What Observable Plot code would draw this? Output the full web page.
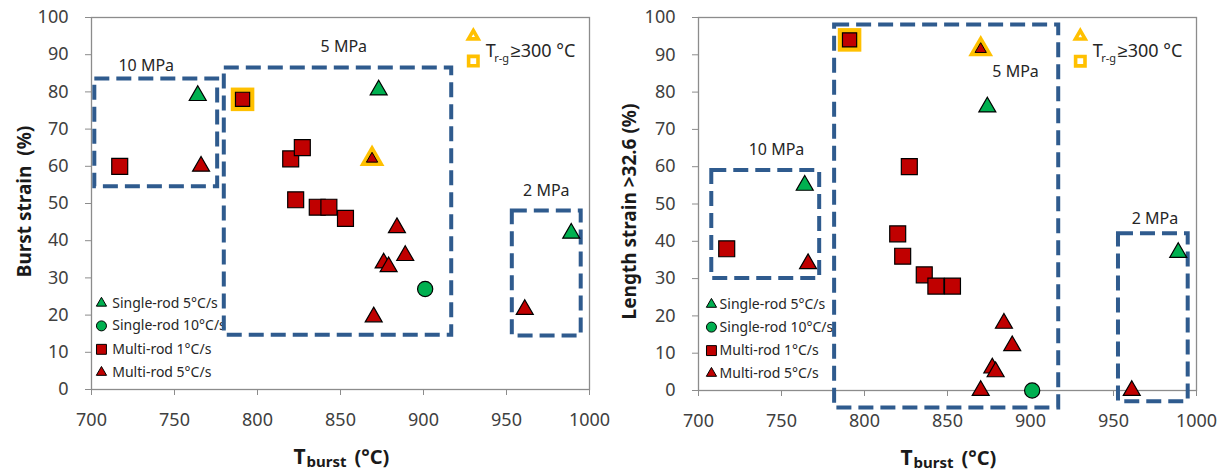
<!DOCTYPE html>
<html><head><meta charset="utf-8">
<script src="https://cdn.jsdelivr.net/npm/d3@7"></script>
<script src="https://cdn.jsdelivr.net/npm/@observablehq/plot@0.6"></script>
<style>
body{margin:0;background:#fff;}
#wrap{position:relative;width:1231px;height:472px;overflow:hidden;background:#fff;}
#left{position:absolute;left:0;top:0;}
#right{position:absolute;left:608px;top:0;}
svg text{white-space:pre;}
</style></head><body><div id="wrap"><div id="left"></div><div id="right"></div></div>
<script>
// ---------- data ----------
const xTicks = [700, 750, 800, 850, 900, 950, 1000];
const yTicks = [0, 10, 20, 30, 40, 50, 60, 70, 80, 90, 100];
const seriesNames = ["Single-rod 5°C/s", "Single-rod 10°C/s", "Multi-rod 1°C/s", "Multi-rod 5°C/s"];
const pressureLabels = ["10 MPa", "5 MPa", "2 MPa"];
const hotLabel = ["T", "r-g", "≥300 °C"];

// Burst strain (%) vs T_burst (°C)
const burstSingle5  = [[764, 79], [873, 80.5], [989, 42]];
const burstSingle10 = [[901, 27]];
const burstMulti1   = [[717, 60], [791, 78], [820, 62], [827, 65], [823, 51], [836, 49], [843, 49], [853, 46]];
const burstMulti5   = [[766, 60], [869, 62], [884, 43.5], [876, 34], [879, 33], [889, 36], [870, 19.5], [961, 21.5]];

// Length strain >32.6 (%) vs T_burst (°C)
const lengthSingle5  = [[764, 55], [874, 76], [989, 37]];
const lengthSingle10 = [[901, 0]];
const lengthMulti1   = [[717, 38], [791, 94], [827, 60], [820, 42], [823, 36], [836, 31], [843, 28], [853, 28]];
const lengthMulti5   = [[766, 34], [870, 91.5], [884, 18], [889, 12], [877, 6], [879, 5], [870, 0], [961, 0]];

// indices of points with T r-g >= 300 °C
const hotMulti1Index = [1];
const hotMulti5Index = [1];

// pressure groups: [T1, T2, strain1, strain2]
const burstBoxes  = [[702, 776, 54.5, 83.5], [780, 917, 14.6, 86.4], [953.5, 995, 14.4, 48]];
const lengthBoxes = [[708, 773, 30, 59], [782, 917, -4.7, 98], [953, 995, -3, 42]];

// ---------- layout (annotation anchors in data units) ----------
const burstBoxLabelAt  = [[733, 87], [852, 92], [974, 53.5]];
const lengthBoxLabelAt = [[747, 64.6], [891, 85.3], [975, 46]];

const RED = "#C00000", GREEN = "#00B050", ORANGE = "#FFC000", BOX = "#2F5B8E";

function chart(o) {
  const pts = (arr, hot = []) => arr.map(([t, v], i) => ({t, v, hot: hot.includes(i)}));
  const s5 = pts(o.single5), s10 = pts(o.single10);
  const m1 = pts(o.multi1, hotMulti1Index), m5 = pts(o.multi5, hotMulti5Index);
  const boxes = o.boxes.map((b, i) => ({t1: b[0], t2: b[1], v1: b[2], v2: b[3], label: pressureLabels[i], lt: o.boxLabels[i][0], lv: o.boxLabels[i][1]}));
  const legend = seriesNames.map((name, i) => ({name, i, v: o.legendV[i]}));
  const symbols = ["triangle", "circle", "square", "triangle"];
  const fills = [GREEN, GREEN, RED, RED];
  const radii = [3.8, 5, 5.6, 3.8];
  const marks = [
    Plot.frame({stroke: "#8c8c8c", strokeWidth: 1.3}),
    Plot.axisX(xTicks, {tickSize: 6, tickPadding: 17.5, fontSize: 18, stroke: "#8c8c8c", fill: "#404040", tickFormat: d => String(d), label: null}),
    Plot.axisY(yTicks, {tickSize: 6, tickPadding: 17, fontSize: 18, stroke: "#8c8c8c", fill: "#404040", tickFormat: d => String(d), label: null}),
    // legend (bottom-left)
    ...legend.map(d => Plot.dot([d], {x: o.legendDotT, y: "v", symbol: () => symbols[d.i], r: radii[d.i], fill: fills[d.i], stroke: "black", strokeWidth: 1})),
    Plot.text(legend, {x: o.legendTextT, y: "v", text: "name", textAnchor: "start", fontSize: 14, fill: "#262626"}),
    // pressure boxes
    Plot.rect(boxes, {x1: "t1", x2: "t2", y1: "v1", y2: "v2", fill: "none", stroke: BOX, strokeWidth: 4, strokeDasharray: "15,7"}),
    Plot.text(boxes, {x: "lt", y: "lv", text: "label", fontSize: 16, fill: "#262626"}),
    // data
    Plot.dot(s5, {x: "t", y: "v", symbol: "triangle", r: 6.3, fill: GREEN, stroke: "black", strokeWidth: 1.2}),
    Plot.dot(s10, {x: "t", y: "v", symbol: "circle", r: 7.6, fill: GREEN, stroke: "black", strokeWidth: 1.2}),
    Plot.dot(m1.filter(d => d.hot), {x: "t", y: "v", symbol: "square", r: 13.3, fill: ORANGE}),
    Plot.dot(m1.filter(d => !d.hot), {x: "t", y: "v", symbol: "square", r: 9, fill: RED, stroke: "black", strokeWidth: 1.2}),
    Plot.dot(m1.filter(d => d.hot), {x: "t", y: "v", symbol: "square", r: 8, fill: RED, stroke: "black", strokeWidth: 1.2}),
    Plot.dot(m5.filter(d => d.hot), {x: "t", y: "v", symbol: "triangle", r: 9.2, fill: ORANGE}),
    Plot.dot(m5.filter(d => !d.hot), {x: "t", y: "v", symbol: "triangle", r: 6.3, fill: RED, stroke: "black", strokeWidth: 1.2}),
    Plot.dot(m5.filter(d => d.hot), {x: "t", y: "v", symbol: "triangle", r: 4.2, fill: RED, stroke: "black", strokeWidth: 1}),
    // T r-g legend (top-right)
    Plot.dot([0], {x: () => 930, y: () => 95, symbol: "triangle", r: 3.6, fill: "none", stroke: ORANGE, strokeWidth: 3.6}),
    Plot.dot([0], {x: () => 930, y: () => 88.3, symbol: "square", r: 5.3, fill: "none", stroke: ORANGE, strokeWidth: 3.6}),
    Plot.text([hotLabel[0]], {x: () => 937.5, y: () => 89.4, text: d => d, textAnchor: "start", lineAnchor: "bottom", fontSize: 18, fill: "#262626"}),
    Plot.text([hotLabel[1]], {x: () => 937.5, y: () => 89.4, dx: 8.5, dy: 5, text: d => d, textAnchor: "start", lineAnchor: "bottom", fontSize: 11, fill: "#262626"}),
    Plot.text([hotLabel[2]], {x: () => 937.5, y: () => 89.4, dx: 25, text: d => d, textAnchor: "start", lineAnchor: "bottom", fontSize: 18, fill: "#262626"}),
    // axis titles
    Plot.text([o.ylabel], {frameAnchor: "left", rotate: -90, dx: o.yTitleDx, dy: o.yTitleDy, text: d => d, textAnchor: "middle", lineAnchor: "middle", fontSize: o.yTitleSize, fontWeight: "bold", fill: "#1a1a1a"}),
    Plot.text(["T"], {frameAnchor: "bottom", dx: -47, dy: 74, text: d => d, textAnchor: "start", lineAnchor: "bottom", fontSize: 21, fontWeight: "bold", fill: "#1a1a1a"}),
    Plot.text(["burst"], {frameAnchor: "bottom", dx: -34, dy: 77, text: d => d, textAnchor: "start", lineAnchor: "bottom", fontSize: 15, fontWeight: "bold", fill: "#1a1a1a"}),
    Plot.text(["(°C)"], {frameAnchor: "bottom", dx: 14, dy: 74, text: d => d, textAnchor: "start", lineAnchor: "bottom", fontSize: 20, fontWeight: "bold", fill: "#1a1a1a"})
  ];
  return Plot.plot({
    width: o.width, height: 472,
    marginLeft: o.marginLeft, marginRight: o.marginRight, marginTop: 17, marginBottom: o.marginBottom,
    x: {domain: [700, 1000]},
    y: {domain: [0, 100]},
    style: {fontFamily: "'Noto Sans', sans-serif", background: "transparent", overflow: "visible"},
    marks
  });
}

document.getElementById("left").append(chart({
  width: 616, marginLeft: 91, marginRight: 27, marginBottom: 83,
  single5: burstSingle5, single10: burstSingle10, multi1: burstMulti1, multi5: burstMulti5,
  boxes: burstBoxes, boxLabels: burstBoxLabelAt,
  legendV: [23.2, 17.1, 10.8, 4.6], legendDotT: () => 706, legendTextT: () => 712.5,
  ylabel: "Burst strain  (%)", yTitleDx: -67, yTitleDy: -2, yTitleSize: 19
}));
document.getElementById("right").append(chart({
  width: 623, marginLeft: 90, marginRight: 35, marginBottom: 82,
  single5: lengthSingle5, single10: lengthSingle10, multi1: lengthMulti1, multi5: lengthMulti5,
  boxes: lengthBoxes, boxLabels: lengthBoxLabelAt,
  legendV: [23.1, 17, 10.7, 4.6], legendDotT: () => 707.8, legendTextT: () => 712.7,
  ylabel: "Length strain >32.6 (%)", yTitleDx: -69, yTitleDy: 7.5, yTitleSize: 19
}));
</script></body></html>
